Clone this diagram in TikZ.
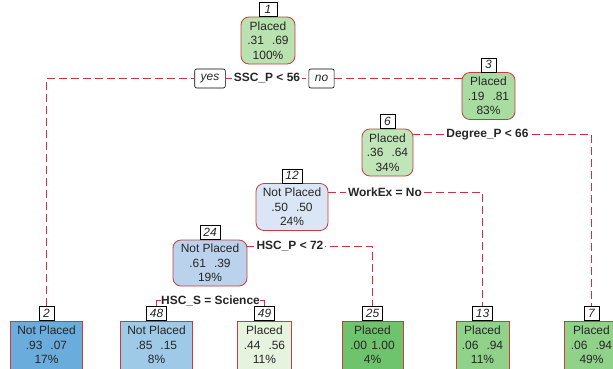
\documentclass[tikz,border=0pt]{standalone}
\usepackage{fontspec}
\setmainfont{Liberation Sans}
\usetikzlibrary{backgrounds}
\definecolor{edgered}{RGB}{200,60,60}
\definecolor{dashred}{RGB}{205,50,65}
\definecolor{cA}{RGB}{185,226,176}
\definecolor{cC}{RGB}{169,220,160}
\definecolor{cF}{RGB}{192,229,184}
\definecolor{cL}{RGB}{218,230,245}
\definecolor{cX}{RGB}{186,210,236}
\definecolor{cB}{RGB}{106,172,220}
\definecolor{cQ}{RGB}{158,202,232}
\definecolor{cR}{RGB}{230,243,222}
\definecolor{cY}{RGB}{110,196,108}
\definecolor{cM}{RGB}{144,210,138}
\definecolor{cG}{RGB}{144,210,138}
\tikzset{
  treenode/.style={draw=edgered, line width=0.8bp, rounded corners=8bp, align=center,
    font=\fontsize{12}{14.5}\selectfont, inner sep=0pt, minimum height=47bp, text=black!85},
  leafnode/.style={treenode, rounded corners=0pt, minimum height=48bp},
  numlab/.style={draw=black, fill=white, line width=0.6bp, font=\fontsize{12}{12}\selectfont\itshape,
    inner xsep=3.5bp, inner ysep=0pt, minimum height=14bp, minimum width=15bp, anchor=south, text=black!85},
  splitlab/.style={fill=white, font=\fontsize{12}{12}\selectfont\bfseries, inner xsep=2bp, inner ysep=1.5bp, text=black!85},
  yesno/.style={draw=black, fill=white, line width=0.6bp, rounded corners=2bp,
    font=\fontsize{12}{12}\selectfont\itshape, inner xsep=6bp, inner ysep=0pt, minimum height=19bp, text=black!85},
  conn/.style={draw=dashred, line width=1.2bp, dash pattern=on 8bp off 4bp},
}
\newcommand{\gp}{\hspace{8bp}}
\begin{document}
\begin{tikzpicture}[x=1bp,y=-1bp]
\useasboundingbox (0,0) rectangle (613,368);
% internal nodes
\node[treenode, fill=cA, minimum width=54bp] (n1) at (268,40.5) {Placed\\.31\gp.69\\100\%};
\node[treenode, fill=cC, minimum width=53bp] (n3) at (488.5,96) {Placed\\.19\gp.81\\83\%};
\node[treenode, fill=cF, minimum width=51bp] (n6) at (387.5,152.5) {Placed\\.36\gp.64\\34\%};
\node[treenode, fill=cL, minimum width=72bp] (n12) at (292,207) {Not Placed\\.50\gp.50\\24\%};
\node[treenode, fill=cX, minimum width=74bp, minimum height=46bp] (n24) at (210,263) {Not Placed\\.61\gp.39\\19\%};
% leaves
\node[leafnode, fill=cB, minimum width=72bp] (l2) at (46.5,345) {Not Placed\\.93\gp.07\\17\%};
\node[leafnode, fill=cQ, minimum width=72bp] (l48) at (156.5,345) {Not Placed\\.85\gp.15\\8\%};
\node[leafnode, fill=cR, minimum width=54bp] (l49) at (264.5,345) {Placed\\.44\gp.56\\11\%};
\node[leafnode, fill=cY, minimum width=61bp] (l25) at (372.5,345) {Placed\\.00\hspace{4.5bp}1.00\\4\%};
\node[leafnode, fill=cM, minimum width=53bp] (l13) at (482.5,345) {Placed\\.06\gp.94\\11\%};
\node[leafnode, fill=cG, minimum width=54bp] (l7) at (591.5,345) {Placed\\.06\gp.94\\49\%};
% number labels
\node[numlab, minimum width=18bp] (k1) at (n1.north) {1};
\node[numlab] (k3) at (n3.north) {3};
\node[numlab] (k6) at (n6.north) {6};
\node[numlab] (k12) at (n12.north) {12};
\node[numlab] (k24) at (n24.north) {24};
\node[numlab] (k2) at (l2.north) {2};
\node[numlab] (k48) at (l48.north) {48};
\node[numlab] (k49) at (l49.north) {49};
\node[numlab] (k25) at (l25.north) {25};
\node[numlab] (k13) at (l13.north) {13};
\node[numlab] (k7) at (l7.north) {7};
% split labels
\node[yesno] (yes) at (210,78.5) {yes};
\node[splitlab] (ssc) at (267,78.5) {SSC\_P < 56};
\node[yesno] (no) at (321.5,78.5) {no};
\node[splitlab] (deg) at (487.5,134.5) {Degree\_P < 66};
\node[splitlab] (work) at (385,192.5) {WorkEx = No};
\node[splitlab] (hscp) at (290,246.5) {HSC\_P < 72};
\node[splitlab, inner xsep=0.5bp, inner ysep=0.5bp] (hscs) at (210.5,300.5) {HSC\_S = Science};
% connectors
\begin{scope}[on background layer]
\fill[white] (0,0) rectangle (613,368);
\draw[conn] (k2.north) |- (yes.west);
\draw[conn] (yes.east) -- (no.west);
\draw[conn] (no.east) -- (no.east -| n3.center);
\draw[conn] (n6.center |- deg) -| (k7.north);
\draw[conn] (n12.center |- work) -| (k13.north);
\draw[conn] (n24.center |- hscp) -| (k25.north);
\draw[draw=dashred, line width=1.2bp] (k48.north) |- (hscs.center) -| (k49.north);
\end{scope}
\end{tikzpicture}
\end{document}
